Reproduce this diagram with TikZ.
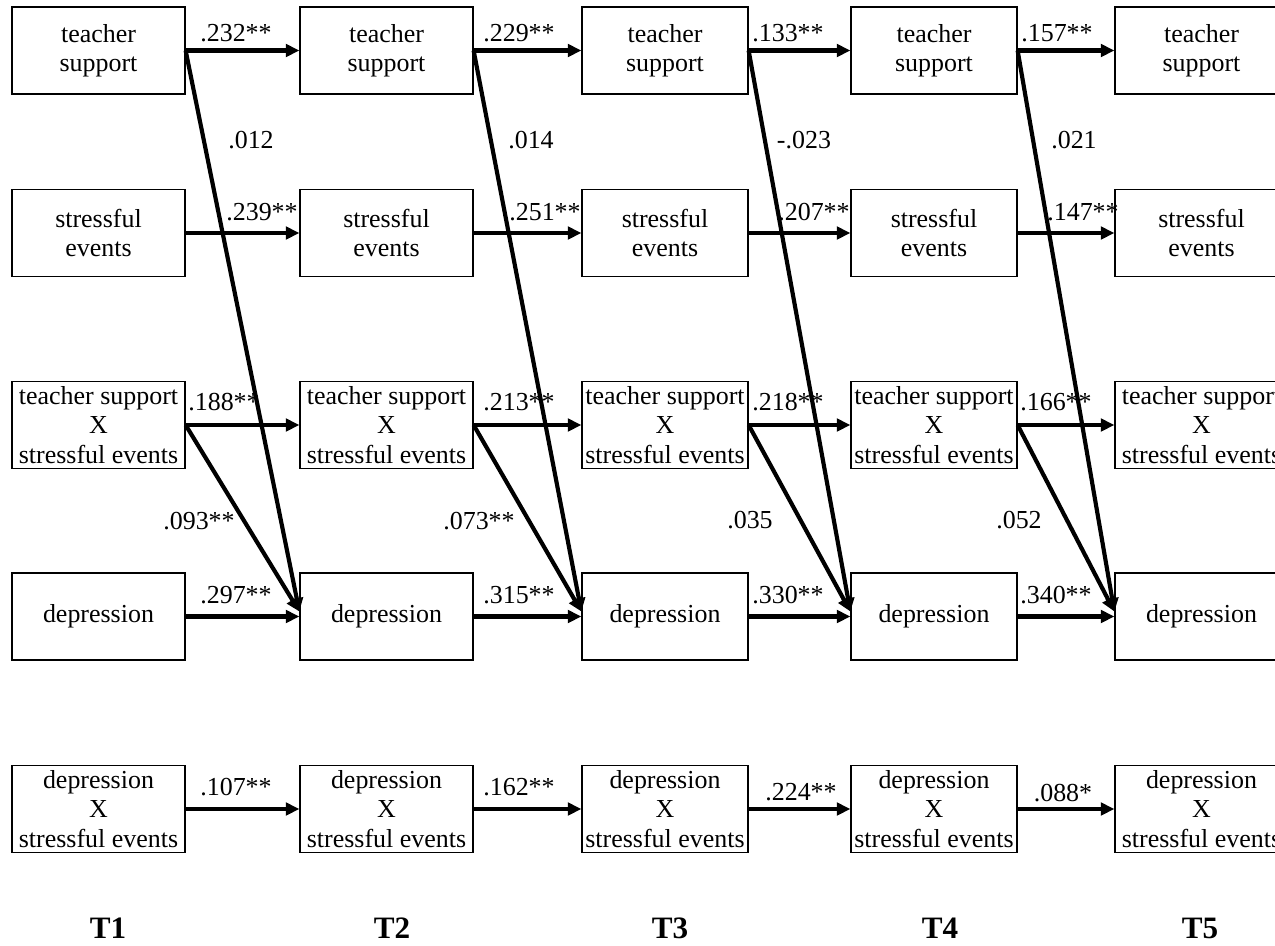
\documentclass[tikz,border=0pt]{standalone}
\usepackage{fontspec}
\setmainfont{Liberation Serif}
\usetikzlibrary{arrows.meta}
\tikzset{>={Triangle[length=6.5pt,width=6pt]}}
\def\px{0.4818pt}
\tikzset{
    var/.style={draw, line width=0.6pt, inner sep=0pt, align=center, minimum height={87*\px}, font=\fontsize{12.5}{14.2}\selectfont},
    link/.style={->, line width=2pt},
    coef/.style={inner sep=0pt, font=\fontsize{12.5}{14}\selectfont},
    occasion/.style={inner sep=0pt, font=\fontsize{15}{18}\selectfont\bfseries},
}

\begin{document}
\begin{tikzpicture}[x=\px, y=-\px]
	\useasboundingbox (0,0) rectangle (1275,945);
	% variables at each wave
	\foreach \i/\cx/\w in {1/98.5/173, 2/386.5/173, 3/665/166, 4/934/166, 5/1201.5/173}{
		\node[var, minimum width={\w*\px}] (ts\i) at (\cx,50.5) {teacher\\support};
		\node[var, minimum width={\w*\px}] (se\i) at (\cx,233) {stressful\\events};
		\node[var, minimum width={\w*\px}] (tx\i) at (\cx,425) {teacher support\\X\\stressful events};
		\node[var, minimum width={\w*\px}] (dep\i) at (\cx,616.5) {depression};
		\node[var, minimum width={\w*\px}] (dx\i) at (\cx,809) {depression\\X\\stressful events};
	}
	\foreach \i/\tx in {1/108, 2/392, 3/670, 4/940, 5/1200}
		\node[occasion] (t\i) at (\tx,928) {T\i};
	% coefficients
	\foreach \x/\y/\c [count=\n] in {236/33/.232**, 519/33/.229**, 788/33/.133**, 1057/33/.157**,
		251/140/.012, 531/140/.014, 804/140/-.023, 1074/140/.021,
		262/212/.239**, 545/212/.251**, 814/212/.207**, 1083/212/.147**,
		224/402/.188**, 519/402/.213**, 788/402/.218**, 1056/402/.166**,
		199/521/.093**, 479/521/.073**, 750/520/.035, 1019/520/.052,
		236/595/.297**, 519/595/.315**, 788/595/.330**, 1056/595/.340**,
		236/787/.107**, 519/787/.162**, 801/792/.224**, 1063/793/.088*}
		\node[coef] (c\n) at (\x,\y) {\c};
	% paths
	\foreach \i [evaluate=\i as \j using int(\i+1)] in {1,...,4}{
		\draw[link] (ts\i.east) -- (ts\j.west);
		\draw[link] (se\i.east) -- (se\j.west);
		\draw[link] (tx\i.east) -- (tx\j.west);
		\draw[link] (dep\i.east) -- (dep\j.west);
		\draw[link] (dx\i.east) -- (dx\j.west);
		\draw[link] (ts\i.east) -- ([yshift=2.4pt]dep\j.west);
		\draw[link] (tx\i.east) -- ([yshift=2.4pt]dep\j.west);
	}
\end{tikzpicture}
\end{document}
